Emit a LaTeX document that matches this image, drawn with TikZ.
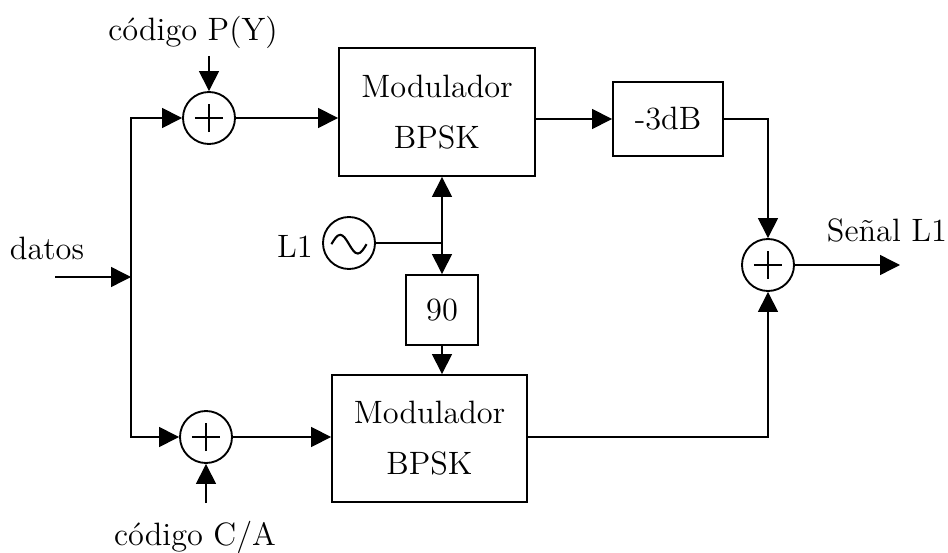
\documentclass[tikz,border=0pt]{standalone}
\usetikzlibrary{arrows.meta,calc}
\begin{document}
\begin{tikzpicture}[x=0.4268pt,y=-0.4268pt,
  font=\fontsize{13.8}{21.8}\selectfont,
  line width=0.6pt,
  >={Triangle[length=8.5pt,width=8.5pt]},
  blk/.style={draw, line width=0.8pt, inner sep=0pt, align=center},
  sumnode/.style={circle, draw, line width=0.8pt, minimum size=22.2pt, inner sep=0pt,
    path picture={\draw[line width=0.9pt] (path picture bounding box.center) ++(-6pt,0) -- ++(12pt,0)
      (path picture bounding box.center) ++(0,-6pt) -- ++(0,12pt);}},
  oscnode/.style={circle, draw, line width=0.8pt, minimum size=22.2pt, inner sep=0pt,
    path picture={\draw[line width=0.9pt] (path picture bounding box.center) ++(-7.5pt,-0.5pt)
      sin ++(3.75pt,4pt) cos ++(3.75pt,-4pt) sin ++(3.75pt,-4pt) cos ++(3.75pt,4pt);}},
  lbl/.style={inner sep=0pt}
]
\useasboundingbox (0,0) rectangle (948,553);

% blocks
\node[blk, minimum width=83.65pt, minimum height=54.63pt] (mod1) at (437,112) {Modulador\\BPSK};
\node[blk, minimum width=83.2pt, minimum height=54.2pt] (mod2) at (429.5,438.5) {Modulador\\BPSK};
\node[blk, minimum width=46.95pt, minimum height=31.58pt] (att) at (668,119) {-3dB};
\node[blk, minimum width=30.73pt, minimum height=29.88pt] (ph) at (442,310) {90};

% summers and oscillator
\node[sumnode] (s1) at (209,118) {};
\node[sumnode] (s2) at (206,437) {};
\node[sumnode] (s3) at (768,265) {};
\node[oscnode] (osc) at (349,243) {};

% labels
\node[lbl] (py) at (193,32) {código P(Y)};
\node[lbl] (ca) at (195,537) {código C/A};
\node[lbl] (datos) at (47,248) {datos};
\node[lbl] (l1) at (295,246) {L1};
\node[lbl] (sl1) at (887,230) {Señal L1};

% coordinates
\coordinate (din) at (55,277);
\coordinate (jn) at (131,277);
\coordinate (pyin) at (209,56);
\coordinate (cain) at (206,503);
\coordinate (oj) at (442,243);
\coordinate (outend) at (900,265);

% connectors
\draw[->] (din) -- (jn);
\draw[->] (jn) |- (s1);
\draw[->] (jn) |- (s2);
\draw[->] (pyin) -- (s1);
\draw[->] (cain) -- (s2);
\draw[->] (s1) -- (s1 -| mod1.west);
\draw[->] (s2) -- (s2 -| mod2.west);
\draw[->] (mod1.east |- att) -- (att.west);
\draw[->] (att.east) -| (s3);
\draw[->] (mod2.east |- s2) -| (s3);
\draw[->] (s3) -- (outend);
\draw (osc) -- (oj);
\draw[->] (oj) -- (oj |- mod1.south);
\draw[->] (oj) -- (ph.north);
\draw[->] (ph.south) -- (ph.south |- mod2.north);
\end{tikzpicture}
\end{document}
